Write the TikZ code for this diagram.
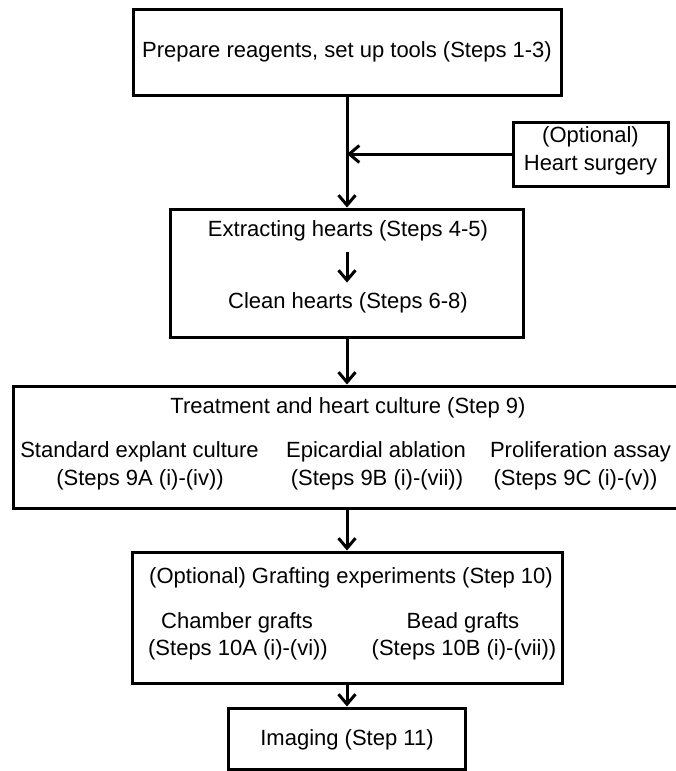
\documentclass[tikz,border=0pt]{standalone}
\usepackage{fontspec}
\setmainfont{Liberation Sans}
\usetikzlibrary{arrows.meta}
\begin{document}
\begin{tikzpicture}[x=1pt,y=-1pt,
  box/.style={draw, line width=3pt, inner sep=0pt},
  txt/.style={inner sep=0pt, font=\fontsize{22}{26}\selectfont, text height=16pt, text depth=4.5pt},
  arr/.style={line width=3pt, -{Straight Barb[length=10pt,width=17pt,line width=3pt]}}]
\useasboundingbox[fill=white] (0,0) rectangle (675,771);
% boxes
\node[box, txt, minimum width=428pt, minimum height=86pt] (b1) at (347,52) {Prepare reagents, set up tools (Steps 1-3)};
\node[box, minimum width=155pt, minimum height=64pt] (opt) at (590.5,154) {};
\node[box, minimum width=353pt, minimum height=128pt] (b2) at (347,273) {};
\node[box, minimum width=700pt, minimum height=122pt] (b3) at (363,447) {};
\node[box, minimum width=430pt, minimum height=131pt] (b4) at (347,617.5) {};
\node[box, minimum width=237pt, minimum height=61pt] (b5) at (347,738.5) {};
% texts
\node[txt] (o1) at (590.5,137) {(Optional)};
\node[txt] (o2) at (590.5,165) {Heart surgery};
\node[txt] (ext) at (348,231) {Extracting hearts (Steps 4-5)};
\node[txt] (clean) at (348,303) {Clean hearts (Steps 6-8)};
\node[txt] (t3) at (348,408) {Treatment and heart culture (Step 9)};
\node[txt] (s1a) at (139.5,452) {Standard explant culture};
\node[txt] (s1b) at (140,480) {(Steps 9A (i)-(iv))};
\node[txt] (s2a) at (376,452) {Epicardial ablation};
\node[txt] (s2b) at (377,480) {(Steps 9B (i)-(vii))};
\node[txt] (s3a) at (580.5,452) {Proliferation assay};
\node[txt] (s3b) at (575.5,480) {(Steps 9C (i)-(v))};
\node[txt] (g0) at (351,578) {(Optional) Grafting experiments (Step 10)};
\node[txt] (g1a) at (237,623) {Chamber grafts};
\node[txt] (g1b) at (238,650) {(Steps 10A (i)-(vi))};
\node[txt] (g2a) at (463,623) {Bead grafts};
\node[txt] (g2b) at (464,650) {(Steps 10B (i)-(vii))};
\node[txt] (img) at (347,740) {Imaging (Step 11)};
% connectors
\coordinate (j) at (347,154);
\draw[arr] (b1.south) -- (b2.north);
\draw[arr] (opt.west) -- (j);
\draw[arr, shorten <=11pt, shorten >=10pt] (ext.south -| b2.north) -- (clean.north -| b2.north);
\draw[arr] (b2.south) -- (b2.south |- b3.north);
\draw[arr] (b2.south |- b3.south) -- (b4.north);
\draw[arr] (b4.south) -- (b5.north);
\end{tikzpicture}
\end{document}
